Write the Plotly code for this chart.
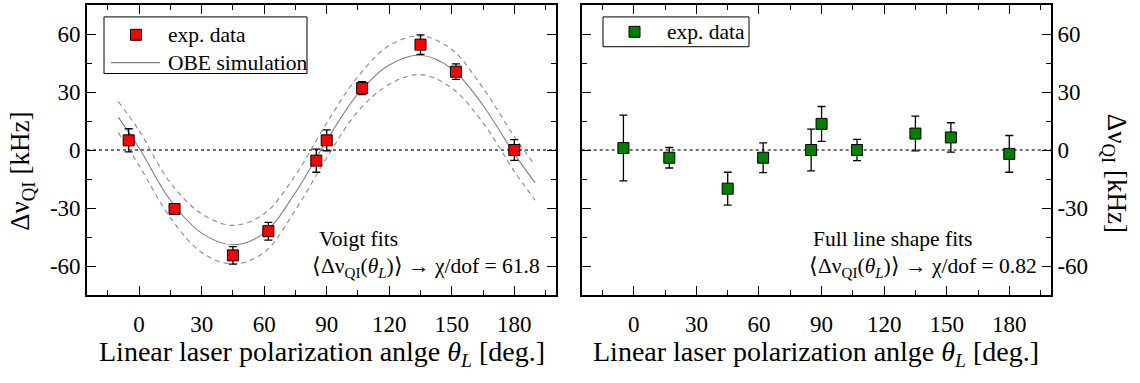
import plotly.graph_objects as go

# Polarization angles (deg) at which the line shifts were measured
theta = [-5, 17, 45, 62, 85, 90, 107, 135, 152, 180]

# Voigt-fit shifts (kHz) and uncertainties
voigt_shift = [5, -30.5, -54.5, -42, -5.5, 5, 32, 54.5, 40.5, 0]
voigt_err = [6, 2.5, 4.5, 4.6, 6, 5.4, 3.4, 5, 4, 5.4]

# Full line-shape-fit shifts (kHz) and uncertainties
full_shift = [1, -4, -20, -4, 0, 13.5, 0, 8.5, 6.5, -2]
full_err = [17, 5.3, 8.5, 7.7, 10.8, 9, 5.5, 9, 7.6, 9.5]

# OBE simulation curve with its upper/lower bounds (kHz)
sim_theta = [-10, 0, 15, 30, 45, 60, 75, 90, 105, 120, 135, 150, 165, 180, 190]
sim_mid = [17, 1, -26, -43, -49, -43, -22, 5, 29, 44, 49, 42, 23, -2, -17]
sim_upper = [25, 10, -17, -33, -39, -33, -13, 14, 38, 54, 59, 52, 32, 7, -8]
sim_lower = [9, -8, -35, -53, -59, -53, -31, -4, 20, 34, 39, 32, 14, -11, -26]

x_ticks = [0, 30, 60, 90, 120, 150, 180]
y_ticks = [-60, -30, 0, 30, 60]
y_ticktext = ["-60", "-30", "0", "30", "60"]

FONT = "Liberation Serif"
W, H = 1140, 383
ML, MR, MT, MB = 87, 89, 3, 88
PW, PH = W - ML - MR, H - MT - MB
LEFT_END, RIGHT_START = 556, 581.7
SIM_COLOR = "#808080"


def px_x(p):
    return (p - ML) / PW


def px_y(p):
    return 1 - (p - MT) / PH


fig = go.Figure()

# simulation band (dashed) and central curve
for ys in (sim_upper, sim_lower):
    fig.add_trace(go.Scatter(
        x=sim_theta, y=ys, mode="lines", line_shape="spline",
        line=dict(color="#8a8a8a", width=1.1, dash="5px,4px"),
        showlegend=False, hoverinfo="skip", xaxis="x", yaxis="y"))

fig.add_trace(go.Scatter(
    x=sim_theta, y=sim_mid, mode="lines", line_shape="spline",
    line=dict(color=SIM_COLOR, width=1.1),
    name="OBE simulation", showlegend=False, xaxis="x", yaxis="y"))

fig.add_trace(go.Scatter(
    x=theta, y=voigt_shift, mode="markers", name="exp. data",
    marker=dict(symbol="square", size=11, color="#ff0000",
                line=dict(color="black", width=1)),
    error_y=dict(type="data", array=voigt_err, color="black",
                 thickness=1.3, width=4),
    showlegend=False, xaxis="x", yaxis="y"))

fig.add_trace(go.Scatter(
    x=theta, y=full_shift, mode="markers", name="exp. data",
    marker=dict(symbol="square", size=11, color="#008000",
                line=dict(color="black", width=1)),
    error_y=dict(type="data", array=full_err, color="black",
                 thickness=1.3, width=4),
    showlegend=False, xaxis="x2", yaxis="y2"))

axis_common = dict(
    showline=True, linecolor="black", linewidth=1.6, mirror="allticks",
    ticks="inside", ticklen=9, tickwidth=1.4, tickcolor="black",
    showgrid=False, zeroline=False,
    tickfont=dict(family=FONT, size=23, color="black"),
)
minor_ticks = dict(dtick=15, tick0=0, ticks="inside", ticklen=5,
                   tickwidth=1.4, tickcolor="black", showgrid=False)

xa = dict(axis_common, range=[-25, 200], tickvals=x_ticks,
          ticklabelstandoff=8, minor=minor_ticks)
ya = dict(axis_common, range=[-75, 75], tickvals=y_ticks,
          ticktext=y_ticktext, minor=minor_ticks)

fig.update_layout(
    width=W, height=H,
    margin=dict(l=ML, r=MR, t=MT, b=MB),
    paper_bgcolor="white", plot_bgcolor="white",
    font=dict(family=FONT, color="black"),
    showlegend=False,
    xaxis=dict(xa, domain=[0, px_x(LEFT_END)], anchor="y"),
    yaxis=dict(ya, domain=[0, 1], anchor="x", side="left"),
    xaxis2=dict(xa, domain=[px_x(RIGHT_START), 1], anchor="y2"),
    yaxis2=dict(ya, domain=[0, 1], anchor="x2", side="right"),
)

# dotted zero lines
for xr, yr in (("x domain", "y"), ("x2 domain", "y2")):
    fig.add_shape(type="line", xref=xr, yref=yr, x0=0, x1=1, y0=0, y1=0,
                  line=dict(color="#444444", width=1.5, dash="dot"),
                  layer="below")


# legend boxes with their keys
def paper_rect(x0, y0, x1, y1, **kw):
    fig.add_shape(type="rect", xref="paper", yref="paper",
                  x0=px_x(x0), x1=px_x(x1), y0=px_y(y1), y1=px_y(y0), **kw)


leg_font = dict(family=FONT, size=21.5, color="black")
paper_rect(104, 15, 307, 72, line=dict(color="black", width=1),
           fillcolor="white", layer="above")
paper_rect(130.5, 27.5, 141.5, 38.5, line=dict(color="black", width=1),
           fillcolor="#ff0000", layer="above")
fig.add_shape(type="line", xref="paper", yref="paper",
              x0=px_x(111), x1=px_x(160), y0=px_y(61), y1=px_y(61),
              line=dict(color=SIM_COLOR, width=1.1), layer="above")
paper_rect(603, 15, 749, 45, line=dict(color="black", width=1),
           fillcolor="white", layer="above")
paper_rect(629, 24.5, 640, 35.5, line=dict(color="black", width=1),
           fillcolor="#008000", layer="above")
for text, xp, yp in (("exp. data", 166, 33), ("OBE simulation", 166, 61),
                     ("exp. data", 665, 30)):
    fig.add_annotation(text=text, xref="paper", yref="paper",
                       x=px_x(xp), y=px_y(yp), showarrow=False,
                       xanchor="left", yanchor="middle", font=leg_font)

ann_font = dict(family=FONT, size=21.5, color="black")
fit_label = "\u27e8\u0394\u03bd<sub>QI</sub>(<i>\u03b8<sub>L</sub></i>)\u27e9 \u2192 \u03c7/dof = "
annotations = [
    dict(text="Voigt fits", x=px_x(317), y=px_y(239), xanchor="left"),
    dict(text=fit_label + "61.8", x=px_x(542), y=px_y(267), xanchor="right"),
    dict(text="Full line shape fits", x=px_x(811), y=px_y(239), xanchor="left"),
    dict(text=fit_label + "0.82", x=px_x(1039), y=px_y(267), xanchor="right"),
]
for a in annotations:
    fig.add_annotation(xref="paper", yref="paper", showarrow=False,
                       yanchor="middle", font=ann_font, **a)

x_title_font = dict(family=FONT, size=28, color="black")
y_title_font = dict(family=FONT, size=27, color="black")
x_title = "Linear laser polarization anlge <i>\u03b8</i><sub><i>L</i></sub> [deg.]"
y_title = "\u0394\u03bd<sub>QI</sub> [kHz]"
fig.add_annotation(text=x_title, xref="paper", yref="paper",
                   x=px_x((ML + LEFT_END) / 2), y=px_y(354), showarrow=False,
                   xanchor="center", yanchor="middle", font=x_title_font)
fig.add_annotation(text=x_title, xref="paper", yref="paper",
                   x=px_x((RIGHT_START + W - MR) / 2), y=px_y(354),
                   showarrow=False, xanchor="center", yanchor="middle",
                   font=x_title_font)
fig.add_annotation(text=y_title, xref="paper", yref="paper",
                   x=px_x(22), y=px_y(171), showarrow=False, textangle=-90,
                   xanchor="center", yanchor="middle", font=y_title_font)
fig.add_annotation(text=y_title, xref="paper", yref="paper",
                   x=px_x(1115), y=px_y(172), showarrow=False, textangle=90,
                   xanchor="center", yanchor="middle", font=y_title_font)

fig.write_html("out.html")
